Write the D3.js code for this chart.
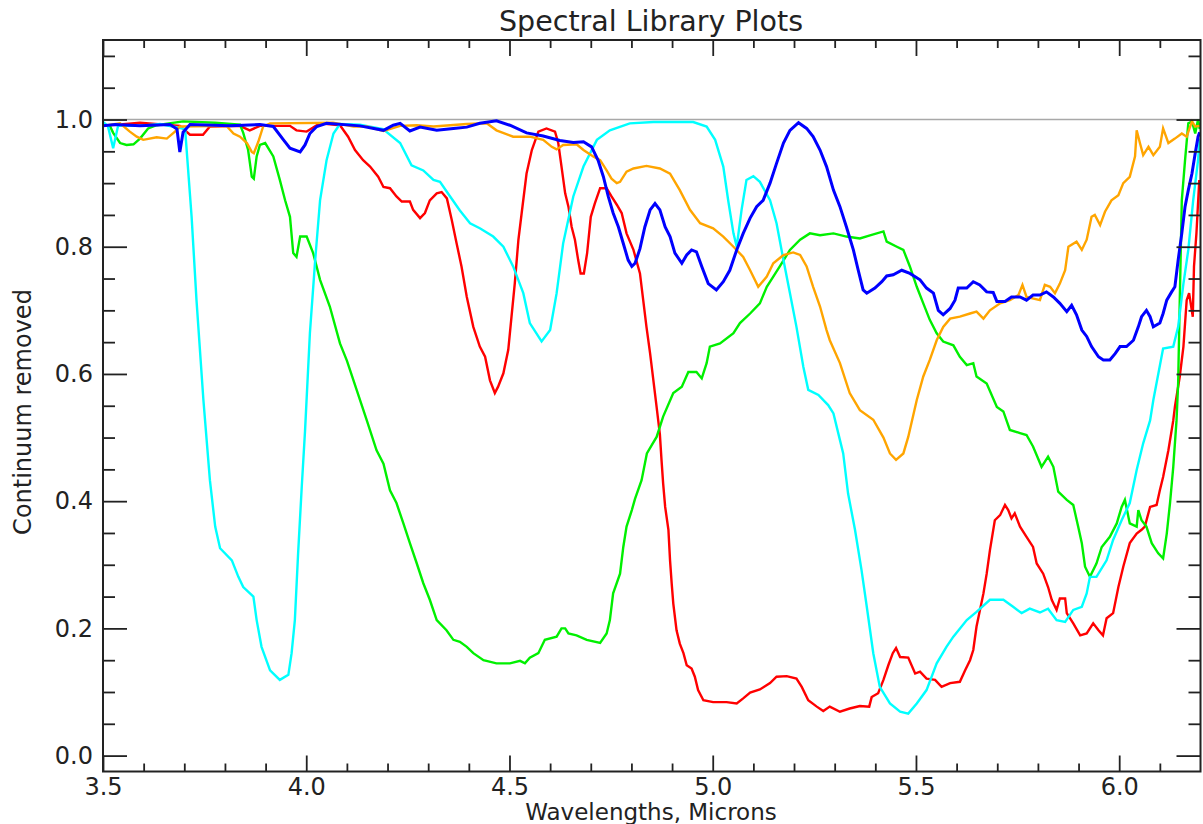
<!DOCTYPE html>
<html>
<head>
<meta charset="utf-8">
<script src="https://cdn.jsdelivr.net/npm/d3@7"></script>
<style>
  html, body { margin: 0; padding: 0; background: #fff; }
  svg { display: block; }
  text { font-family: "DejaVu Sans", sans-serif; fill: #222; }
</style>
</head>
<body>
<svg id="chart" width="1203" height="824"></svg>
<script>
// ---------------- data ----------------
const chartTitle = "Spectral Library Plots";
const xTitle = "Wavelengths, Microns";
const yTitle = "Continuum removed";

const xMajorTicks = [3.5, 4.0, 4.5, 5.0, 5.5, 6.0];
const xMinorTicks = [3.6, 3.7, 3.8, 3.9, 4.1, 4.2, 4.3, 4.4, 4.6, 4.7, 4.8, 4.9, 5.1, 5.2, 5.3, 5.4, 5.6, 5.7, 5.8, 5.9, 6.1];
const yMajorTicks = [0.0, 0.2, 0.4, 0.6, 0.8, 1.0];
const yMinorTicks = [0.05, 0.1, 0.15, 0.25, 0.3, 0.35, 0.45, 0.5, 0.55, 0.65, 0.7, 0.75, 0.85, 0.9, 0.95, 1.05, 1.1];
const referenceLevel = 1.0;

// series: wavelength (microns) and continuum-removed value
const redW = [3.500,3.591,3.689,3.714,3.746,3.763,3.837,3.861,3.886,3.960,3.976,4.001,4.034,4.083,4.103,4.120,4.140,4.157,4.177,4.190,4.206,4.222,4.235,4.255,4.263,4.280,4.292,4.304,4.321,4.333,4.346,4.358,4.370,4.382,4.395,4.411,4.427,4.440,4.452,4.464,4.472,4.485,4.497,4.505,4.513,4.522,4.530,4.542,4.555,4.571,4.591,4.612,4.620,4.628,4.637,4.645,4.653,4.661,4.669,4.675,4.683,4.691,4.700,4.710,4.723,4.739,4.751,4.764,4.776,4.788,4.805,4.821,4.829,4.837,4.846,4.854,4.862,4.870,4.874,4.878,4.883,4.891,4.895,4.899,4.903,4.911,4.919,4.928,4.936,4.948,4.956,4.964,4.977,5.001,5.034,5.059,5.075,5.092,5.116,5.141,5.157,5.182,5.206,5.219,5.235,5.256,5.272,5.288,5.313,5.337,5.362,5.385,5.391,5.407,5.420,5.432,5.443,5.451,5.461,5.481,5.498,5.510,5.526,5.547,5.563,5.584,5.608,5.621,5.633,5.641,5.649,5.666,5.674,5.682,5.694,5.707,5.719,5.727,5.735,5.743,5.756,5.772,5.788,5.797,5.813,5.825,5.834,5.846,5.854,5.867,5.871,5.887,5.904,5.920,5.936,5.949,5.960,5.969,5.985,5.998,6.010,6.026,6.043,6.055,6.063,6.076,6.092,6.100,6.108,6.121,6.133,6.137,6.149,6.158,6.166,6.172,6.181,6.184,6.190,6.197];
const redV = [0.99,0.995,0.99,0.976,0.976,0.989,0.99,0.983,0.99,0.99,0.983,0.981,0.994,0.991,0.973,0.952,0.936,0.926,0.91,0.894,0.892,0.879,0.871,0.871,0.858,0.845,0.853,0.873,0.884,0.886,0.876,0.842,0.805,0.769,0.721,0.674,0.643,0.627,0.59,0.57,0.58,0.601,0.638,0.69,0.742,0.811,0.853,0.915,0.952,0.981,0.986,0.981,0.963,0.926,0.884,0.863,0.831,0.811,0.779,0.758,0.758,0.79,0.847,0.868,0.892,0.892,0.879,0.866,0.853,0.821,0.795,0.758,0.716,0.674,0.632,0.59,0.548,0.505,0.465,0.428,0.391,0.355,0.307,0.271,0.239,0.197,0.176,0.161,0.142,0.137,0.124,0.103,0.087,0.084,0.084,0.082,0.09,0.099,0.104,0.114,0.124,0.125,0.121,0.108,0.087,0.077,0.07,0.077,0.069,0.074,0.078,0.077,0.092,0.098,0.119,0.142,0.161,0.169,0.155,0.154,0.129,0.132,0.121,0.119,0.108,0.114,0.116,0.134,0.15,0.166,0.203,0.255,0.286,0.323,0.37,0.378,0.394,0.386,0.373,0.381,0.36,0.344,0.328,0.302,0.286,0.265,0.245,0.229,0.247,0.247,0.224,0.208,0.189,0.192,0.208,0.197,0.189,0.216,0.224,0.265,0.297,0.334,0.349,0.355,0.36,0.391,0.394,0.417,0.438,0.48,0.527,0.548,0.596,0.643,0.716,0.727,0.69,0.769,0.821,0.905];

const greenW = [3.500,3.517,3.525,3.542,3.558,3.575,3.591,3.611,3.632,3.697,3.776,3.837,3.845,3.857,3.866,3.871,3.878,3.886,3.899,3.919,3.935,3.948,3.960,3.968,3.976,3.985,4.001,4.017,4.034,4.058,4.083,4.100,4.124,4.149,4.173,4.190,4.206,4.222,4.239,4.255,4.272,4.288,4.304,4.321,4.345,4.362,4.378,4.395,4.411,4.436,4.468,4.501,4.526,4.538,4.550,4.571,4.587,4.616,4.628,4.637,4.645,4.665,4.690,4.723,4.739,4.747,4.755,4.772,4.780,4.788,4.801,4.809,4.825,4.838,4.850,4.862,4.878,4.903,4.924,4.940,4.960,4.973,4.985,4.993,5.018,5.051,5.067,5.092,5.116,5.133,5.149,5.165,5.190,5.215,5.239,5.264,5.297,5.329,5.362,5.387,5.420,5.428,5.453,5.469,5.485,5.502,5.518,5.534,5.551,5.567,5.592,5.608,5.625,5.641,5.649,5.674,5.699,5.715,5.731,5.756,5.772,5.788,5.809,5.825,5.838,5.850,5.871,5.887,5.899,5.908,5.916,5.928,5.944,5.957,5.977,5.994,6.006,6.014,6.026,6.043,6.047,6.055,6.067,6.080,6.096,6.108,6.117,6.125,6.133,6.141,6.145,6.149,6.154,6.162,6.170,6.179,6.187,6.194,6.198];
const greenV = [0.99,0.99,0.979,0.963,0.96,0.961,0.97,0.986,0.991,0.997,0.995,0.992,0.979,0.952,0.91,0.907,0.942,0.96,0.963,0.942,0.905,0.873,0.847,0.79,0.784,0.816,0.816,0.79,0.748,0.706,0.648,0.621,0.575,0.527,0.48,0.459,0.417,0.397,0.365,0.334,0.302,0.271,0.245,0.213,0.197,0.182,0.179,0.171,0.161,0.15,0.145,0.145,0.149,0.145,0.154,0.161,0.182,0.187,0.2,0.2,0.192,0.189,0.182,0.177,0.192,0.213,0.255,0.286,0.328,0.36,0.386,0.404,0.433,0.475,0.488,0.501,0.533,0.57,0.58,0.603,0.603,0.593,0.617,0.643,0.648,0.664,0.68,0.695,0.711,0.737,0.753,0.769,0.795,0.811,0.821,0.818,0.821,0.816,0.813,0.818,0.824,0.808,0.8,0.795,0.769,0.737,0.711,0.685,0.664,0.651,0.645,0.627,0.614,0.617,0.596,0.585,0.548,0.541,0.512,0.507,0.504,0.486,0.454,0.47,0.454,0.415,0.402,0.394,0.36,0.334,0.297,0.281,0.302,0.328,0.344,0.365,0.391,0.402,0.365,0.36,0.386,0.37,0.36,0.334,0.318,0.31,0.349,0.397,0.454,0.527,0.585,0.716,0.873,0.936,0.994,0.997,0.978,1.0,0.985];

const cyanW = [3.500,3.512,3.525,3.537,3.591,3.640,3.702,3.718,3.730,3.747,3.755,3.763,3.776,3.788,3.817,3.833,3.845,3.870,3.878,3.890,3.911,3.935,3.956,3.964,3.972,3.980,3.989,3.997,4.009,4.022,4.034,4.050,4.067,4.083,4.132,4.189,4.231,4.259,4.288,4.313,4.329,4.354,4.378,4.403,4.427,4.460,4.485,4.509,4.534,4.550,4.579,4.600,4.616,4.632,4.657,4.682,4.715,4.747,4.796,4.854,4.952,4.985,5.006,5.026,5.038,5.051,5.059,5.071,5.083,5.100,5.116,5.141,5.157,5.174,5.190,5.206,5.223,5.235,5.260,5.284,5.297,5.313,5.321,5.333,5.350,5.366,5.379,5.395,5.411,5.436,5.461,5.481,5.502,5.526,5.551,5.575,5.592,5.625,5.649,5.682,5.715,5.739,5.760,5.780,5.805,5.825,5.846,5.867,5.887,5.908,5.920,5.928,5.944,5.969,5.985,6.006,6.026,6.043,6.059,6.076,6.084,6.108,6.133,6.145,6.158,6.170,6.182,6.194,6.198];
const cyanV = [0.996,0.99,0.955,0.99,0.99,0.993,0.985,0.847,0.716,0.559,0.496,0.433,0.36,0.326,0.307,0.281,0.265,0.25,0.213,0.171,0.134,0.119,0.127,0.161,0.213,0.318,0.423,0.51,0.664,0.779,0.873,0.936,0.978,0.993,0.992,0.985,0.963,0.928,0.92,0.905,0.902,0.879,0.857,0.837,0.829,0.816,0.8,0.769,0.727,0.68,0.651,0.669,0.727,0.805,0.879,0.926,0.968,0.983,0.994,0.996,0.996,0.989,0.968,0.926,0.873,0.821,0.8,0.858,0.905,0.911,0.902,0.873,0.837,0.779,0.727,0.674,0.611,0.575,0.567,0.551,0.538,0.496,0.475,0.412,0.355,0.292,0.234,0.161,0.108,0.082,0.069,0.066,0.082,0.103,0.145,0.171,0.187,0.213,0.226,0.245,0.245,0.234,0.224,0.231,0.225,0.231,0.213,0.21,0.229,0.234,0.255,0.281,0.281,0.307,0.339,0.37,0.397,0.449,0.491,0.527,0.559,0.64,0.643,0.674,0.742,0.795,0.873,0.936,0.97];

const orangeW = [3.500,3.542,3.566,3.583,3.599,3.632,3.657,3.677,3.689,3.804,3.821,3.837,3.854,3.866,3.871,3.882,3.894,3.911,4.066,4.116,4.149,4.190,4.231,4.272,4.313,4.395,4.444,4.468,4.509,4.550,4.583,4.604,4.616,4.632,4.665,4.682,4.706,4.723,4.739,4.751,4.764,4.772,4.788,4.805,4.837,4.870,4.895,4.919,4.944,4.969,5.001,5.026,5.051,5.075,5.092,5.112,5.133,5.149,5.174,5.198,5.215,5.231,5.247,5.264,5.280,5.288,5.313,5.337,5.362,5.395,5.420,5.436,5.451,5.469,5.481,5.502,5.518,5.534,5.551,5.567,5.584,5.608,5.633,5.649,5.666,5.682,5.707,5.731,5.752,5.762,5.772,5.805,5.817,5.830,5.842,5.854,5.867,5.875,5.895,5.908,5.920,5.932,5.940,5.953,5.965,5.981,5.998,6.010,6.026,6.039,6.043,6.051,6.059,6.072,6.084,6.100,6.108,6.121,6.137,6.154,6.166,6.179,6.187,6.198];
const orangeV = [0.99,0.994,0.981,0.973,0.968,0.972,0.97,0.981,0.989,0.99,0.978,0.973,0.963,0.949,0.947,0.965,0.989,0.994,0.995,0.989,0.989,0.982,0.99,0.991,0.989,0.993,0.994,0.983,0.973,0.973,0.968,0.957,0.953,0.96,0.961,0.952,0.942,0.936,0.92,0.907,0.9,0.902,0.918,0.923,0.927,0.923,0.915,0.889,0.858,0.837,0.829,0.816,0.8,0.784,0.763,0.737,0.753,0.774,0.787,0.791,0.787,0.769,0.737,0.706,0.669,0.653,0.617,0.57,0.543,0.528,0.5,0.475,0.465,0.475,0.501,0.559,0.596,0.622,0.653,0.674,0.687,0.69,0.695,0.698,0.687,0.7,0.711,0.716,0.724,0.74,0.721,0.716,0.74,0.737,0.727,0.742,0.763,0.8,0.808,0.795,0.811,0.847,0.85,0.834,0.855,0.873,0.881,0.9,0.91,0.942,0.983,0.963,0.944,0.957,0.944,0.957,0.986,0.963,0.97,0.978,0.973,0.997,0.989,0.99];

const blueW = [3.500,3.530,3.591,3.665,3.682,3.689,3.697,3.714,3.812,3.886,3.919,3.944,3.960,3.985,3.997,4.009,4.026,4.050,4.132,4.190,4.214,4.231,4.255,4.280,4.321,4.362,4.395,4.427,4.468,4.501,4.542,4.583,4.624,4.657,4.682,4.702,4.718,4.731,4.743,4.755,4.768,4.780,4.792,4.801,4.809,4.821,4.833,4.846,4.858,4.870,4.883,4.895,4.907,4.924,4.936,4.948,4.960,4.973,4.989,5.009,5.026,5.042,5.059,5.075,5.092,5.108,5.124,5.141,5.157,5.174,5.190,5.211,5.231,5.247,5.264,5.280,5.297,5.313,5.329,5.346,5.358,5.370,5.379,5.399,5.416,5.428,5.444,5.465,5.485,5.510,5.526,5.543,5.555,5.567,5.584,5.596,5.604,5.625,5.641,5.657,5.674,5.690,5.699,5.719,5.735,5.756,5.772,5.788,5.805,5.821,5.838,5.854,5.871,5.883,5.895,5.908,5.920,5.932,5.949,5.961,5.977,5.990,6.002,6.018,6.035,6.047,6.055,6.067,6.076,6.084,6.100,6.108,6.117,6.129,6.137,6.145,6.154,6.162,6.170,6.179,6.187,6.194,6.198];
const blueV = [0.99,0.992,0.99,0.992,0.985,0.949,0.98,0.992,0.99,0.992,0.989,0.968,0.955,0.949,0.96,0.978,0.989,0.994,0.99,0.983,0.991,0.994,0.982,0.988,0.983,0.986,0.988,0.994,0.998,0.991,0.979,0.974,0.967,0.964,0.965,0.957,0.936,0.91,0.879,0.853,0.831,0.805,0.779,0.769,0.774,0.797,0.831,0.858,0.868,0.858,0.831,0.816,0.79,0.774,0.787,0.795,0.792,0.769,0.742,0.732,0.745,0.763,0.795,0.821,0.845,0.863,0.873,0.9,0.931,0.963,0.983,0.995,0.986,0.973,0.952,0.926,0.889,0.863,0.831,0.795,0.763,0.732,0.727,0.735,0.745,0.754,0.756,0.763,0.758,0.748,0.735,0.727,0.7,0.693,0.703,0.716,0.735,0.735,0.745,0.74,0.729,0.728,0.714,0.714,0.721,0.721,0.716,0.724,0.724,0.729,0.721,0.711,0.698,0.708,0.693,0.669,0.659,0.643,0.627,0.622,0.622,0.632,0.643,0.643,0.653,0.674,0.69,0.7,0.69,0.674,0.68,0.695,0.716,0.729,0.737,0.779,0.821,0.863,0.889,0.915,0.947,0.973,0.98];

const series = [
  { name: "red",    w: redW,    v: redV,    color: "#ff0000", width: 2.4 },
  { name: "green",  w: greenW,  v: greenV,  color: "#00f000", width: 2.4 },
  { name: "cyan",   w: cyanW,   v: cyanV,   color: "#00ffff", width: 2.4 },
  { name: "orange", w: orangeW, v: orangeV, color: "#ffa500", width: 2.4 },
  { name: "blue",   w: blueW,   v: blueV,   color: "#0000ff", width: 3 }
];

(function () {
// ---------------- layout ----------------
const pLeft = 103, pRight = 1200.5, pTop = 40, pBottom = 771.5;
const x = d3.scaleLinear().domain([3.5, 6.2]).range([pLeft, pRight]);
const y = d3.scaleLinear().domain([-0.025, 1.125]).range([pBottom, pTop]);

const svg = d3.select("#chart");
const axisColor = "#222";

// reference line at 1.0
svg.append("line")
  .attr("x1", pLeft).attr("x2", pRight)
  .attr("y1", y(referenceLevel)).attr("y2", y(referenceLevel))
  .attr("stroke", "#a8a8a8").attr("stroke-width", 1.6);

// clip
svg.append("clipPath").attr("id", "plotclip")
  .append("rect").attr("x", pLeft).attr("y", pTop).attr("width", pRight - pLeft).attr("height", pBottom - pTop);

const line = d3.line().x(d => x(d[0])).y(d => y(d[1]));
const g = svg.append("g").attr("clip-path", "url(#plotclip)");
series.forEach(s => {
  const pts = s.w.map((w, i) => [w, s.v[i]]);
  g.append("path")
    .datum(pts)
    .attr("d", line)
    .attr("fill", "none")
    .attr("stroke", s.color)
    .attr("stroke-width", s.width)
    .attr("stroke-linejoin", "miter");
});

// axes
function styleAxis(sel) {
  sel.select(".domain").remove();
  sel.selectAll("line").attr("stroke", axisColor).attr("stroke-width", 1.8);
  sel.selectAll("text").attr("font-size", 24).attr("fill", "#222")
     .attr("font-family", "DejaVu Sans, sans-serif");
}
const fmt = d3.format(".1f");

svg.append("g").attr("transform", `translate(0,${pBottom})`)
  .call(d3.axisBottom(x).tickValues(xMajorTicks).tickSize(-16).tickSizeOuter(0).tickPadding(6).tickFormat(fmt))
  .call(styleAxis);
svg.append("g").attr("transform", `translate(0,${pBottom})`)
  .call(d3.axisBottom(x).tickValues(xMinorTicks).tickSize(-8).tickSizeOuter(0).tickFormat(""))
  .call(styleAxis);
svg.append("g").attr("transform", `translate(0,${pTop})`)
  .call(d3.axisTop(x).tickValues(xMajorTicks).tickSize(-16).tickSizeOuter(0).tickFormat(""))
  .call(styleAxis);
svg.append("g").attr("transform", `translate(0,${pTop})`)
  .call(d3.axisTop(x).tickValues(xMinorTicks).tickSize(-8).tickSizeOuter(0).tickFormat(""))
  .call(styleAxis);

svg.append("g").attr("transform", `translate(${pLeft},0)`)
  .call(d3.axisLeft(y).tickValues(yMajorTicks).tickSize(-24).tickSizeOuter(0).tickPadding(10).tickFormat(fmt))
  .call(styleAxis);
svg.append("g").attr("transform", `translate(${pLeft},0)`)
  .call(d3.axisLeft(y).tickValues(yMinorTicks).tickSize(-12).tickSizeOuter(0).tickFormat(""))
  .call(styleAxis);
svg.append("g").attr("transform", `translate(${pRight},0)`)
  .call(d3.axisRight(y).tickValues(yMajorTicks).tickSize(-24).tickSizeOuter(0).tickFormat(""))
  .call(styleAxis);
svg.append("g").attr("transform", `translate(${pRight},0)`)
  .call(d3.axisRight(y).tickValues(yMinorTicks).tickSize(-12).tickSizeOuter(0).tickFormat(""))
  .call(styleAxis);

// frame
svg.append("rect")
  .attr("x", pLeft).attr("y", pTop).attr("width", pRight - pLeft).attr("height", pBottom - pTop)
  .attr("fill", "none").attr("stroke", axisColor).attr("stroke-width", 2);

// titles
svg.append("text").attr("x", 651).attr("y", 31).attr("text-anchor", "middle")
  .attr("font-size", 28.5).text(chartTitle);
svg.append("text").attr("x", 651).attr("y", 820).attr("text-anchor", "middle")
  .attr("font-size", 23).text(xTitle);
svg.append("text").attr("transform", "translate(31,412) rotate(-90)").attr("text-anchor", "middle")
  .attr("font-size", 24).text(yTitle);
})();
</script>
</body>
</html>
